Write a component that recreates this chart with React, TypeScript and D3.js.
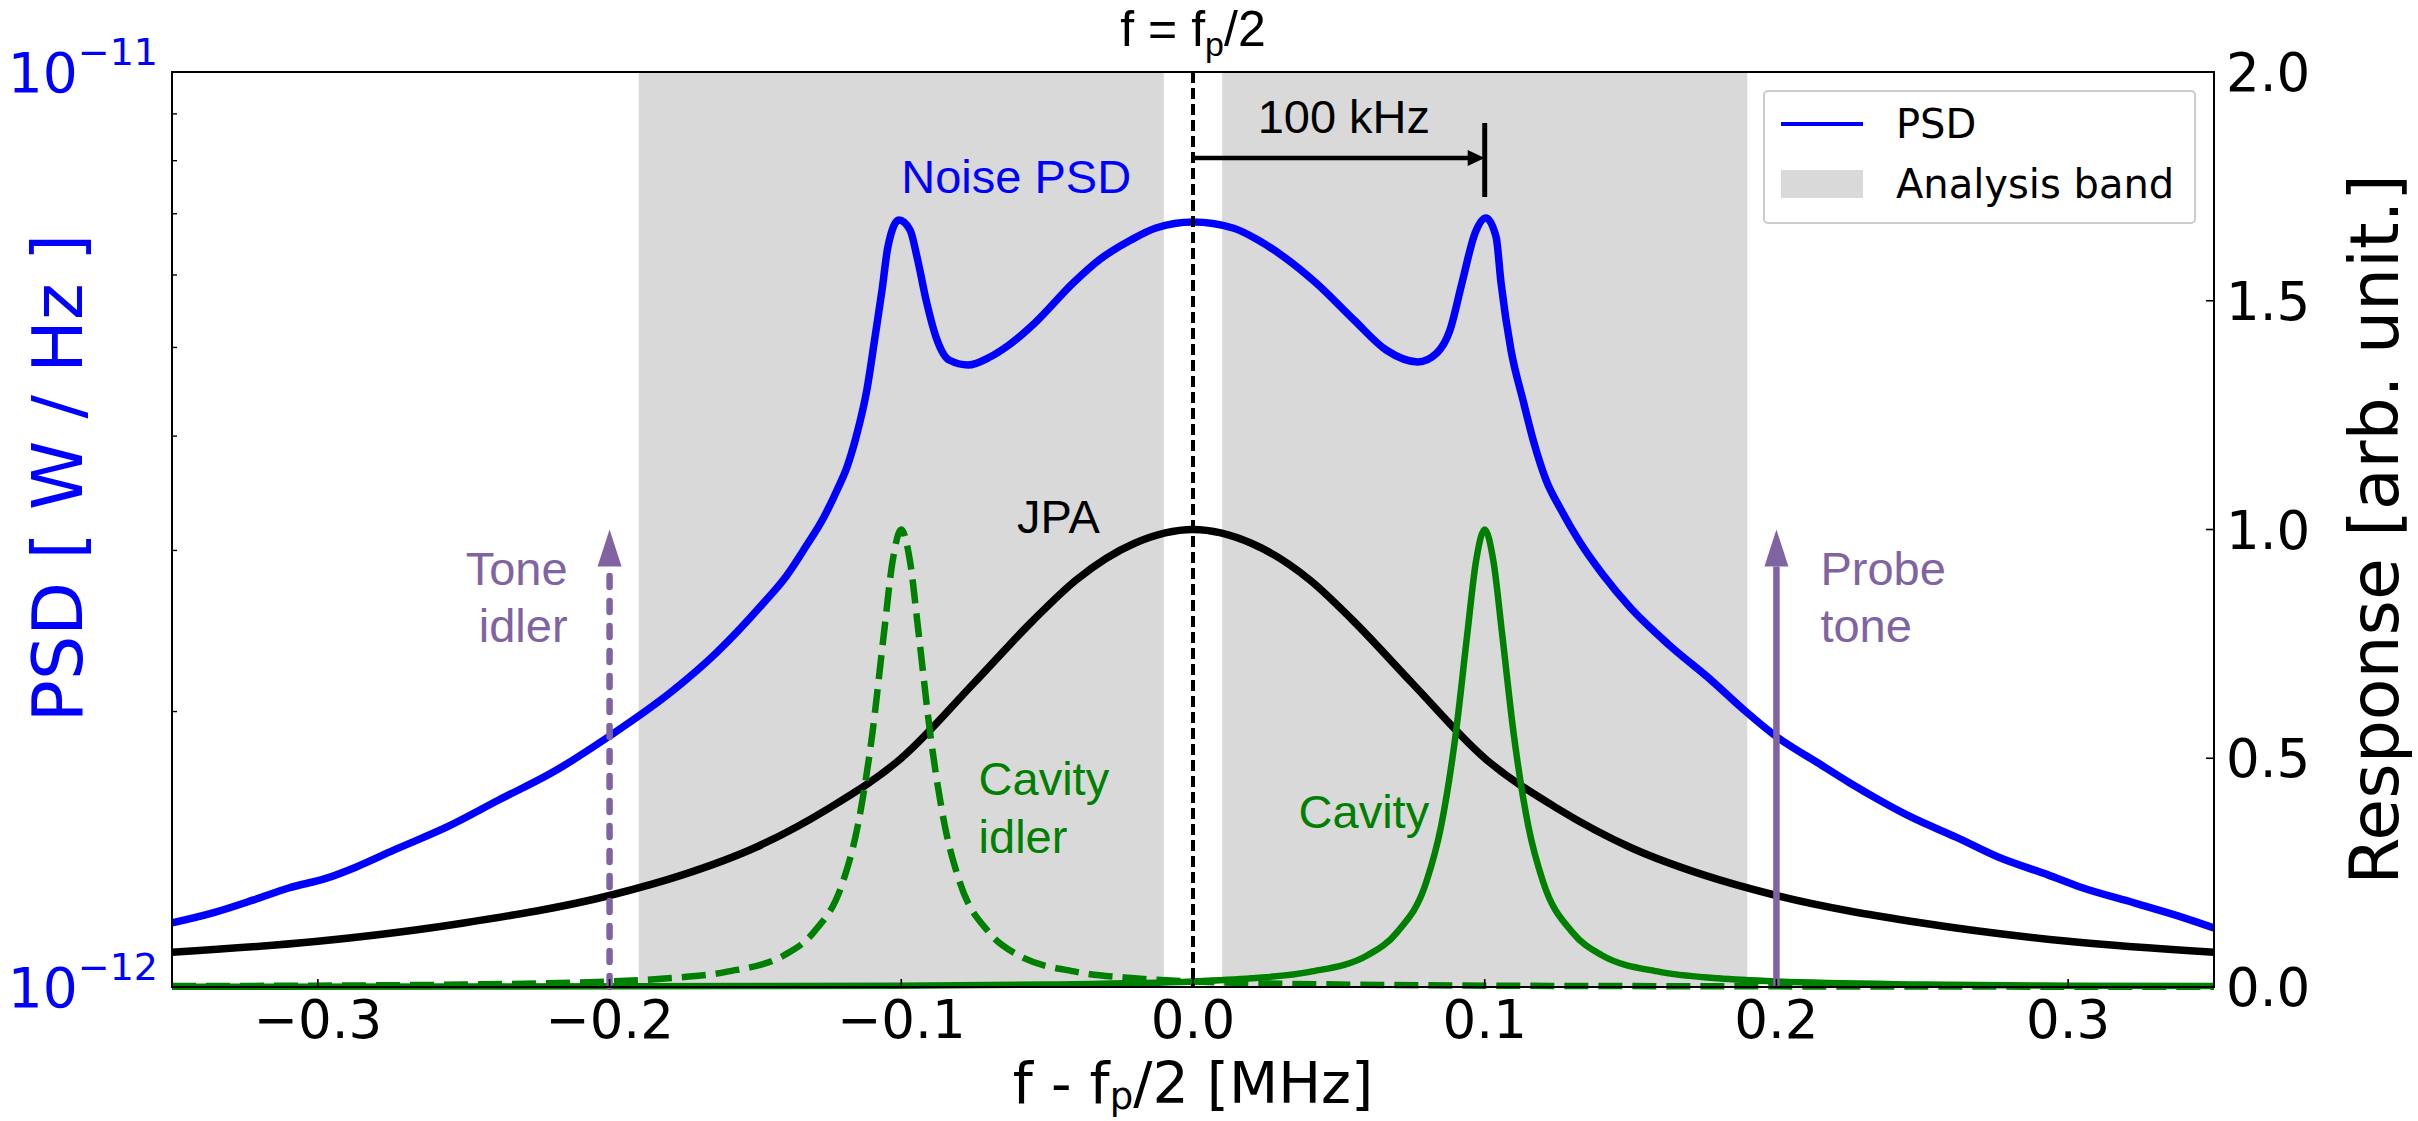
import React from "react";
import * as d3 from "d3";

const width = 2418;
const height = 1121;
const plot = { left: 172, right: 2214, top: 72, bottom: 987 };

// noise PSD, [f - fp/2 in MHz, PSD in units of 1e-12 W/Hz]
const psdPoints: [number, number][] = [
  [-0.35, 1.175], [-0.336, 1.205], [-0.322, 1.245], [-0.31, 1.283], [-0.297, 1.315],
  [-0.287, 1.352], [-0.274, 1.411], [-0.255, 1.5], [-0.238, 1.601], [-0.22, 1.713],
  [-0.2005, 1.876], [-0.178, 2.112], [-0.1635, 2.317], [-0.1474, 2.625], [-0.1395, 2.81],
  [-0.133, 3.02], [-0.1265, 3.264], [-0.122, 3.493], [-0.1186, 3.701], [-0.1155, 3.991],
  [-0.1118, 4.493], [-0.109, 5.134], [-0.1066, 5.777], [-0.1046, 6.437], [-0.1008, 6.89],
  [-0.097, 6.72], [-0.0946, 6.278], [-0.0915, 5.634], [-0.0881, 5.134], [-0.0836, 4.844],
  [-0.0771, 4.784], [-0.0696, 4.881], [-0.0631, 5.031], [-0.0542, 5.318], [-0.0411, 5.88],
  [-0.0322, 6.231], [-0.0213, 6.552], [-0.0127, 6.753], [0, 6.856], [0.0137, 6.753],
  [0.0223, 6.552], [0.0312, 6.278], [0.0422, 5.88], [0.0552, 5.358], [0.0662, 4.968],
  [0.0771, 4.821], [0.0836, 4.931], [0.0881, 5.224], [0.0922, 5.88], [0.0967, 6.668],
  [0.1004, 6.925], [0.1039, 6.602], [0.1056, 5.88], [0.109, 4.968], [0.1131, 4.381],
  [0.1169, 3.931], [0.121, 3.583], [0.1262, 3.321], [0.1327, 3.06], [0.1406, 2.82],
  [0.1498, 2.6], [0.1632, 2.365], [0.1776, 2.165], [0.1889, 2.008], [0.2002, 1.876],
  [0.2143, 1.757], [0.2252, 1.671], [0.2352, 1.601], [0.2461, 1.534], [0.2616, 1.458],
  [0.276, 1.387], [0.2931, 1.326], [0.3041, 1.286], [0.3229, 1.235], [0.3387, 1.193],
  [0.35, 1.16],
];

// JPA gain response (right axis)
const jpaPoints: [number, number][] = [
  [-0.35, 0.076], [-0.3, 0.1], [-0.25, 0.14], [-0.2, 0.2], [-0.175, 0.245], [-0.15, 0.305],
  [-0.125, 0.39], [-0.1, 0.5], [-0.075, 0.665], [-0.055, 0.8], [-0.04, 0.89], [-0.02, 0.97],
  [0, 1.0], [0.02, 0.97], [0.04, 0.89], [0.055, 0.8], [0.075, 0.665], [0.1, 0.5],
  [0.125, 0.39], [0.15, 0.305], [0.175, 0.245], [0.2, 0.2], [0.25, 0.14], [0.3, 0.1],
  [0.35, 0.076],
];

// cavity response (solid green)
const cavityPoints: [number, number][] = [
  [-0.35, 0.0006], [-0.25, 0.001], [-0.15, 0.002], [-0.1, 0.003], [-0.05, 0.0054],
  [0, 0.012], [0.02, 0.019], [0.04, 0.033], [0.06, 0.07], [0.07, 0.12], [0.08, 0.23],
  [0.085, 0.35], [0.09, 0.55], [0.094, 0.77], [0.097, 0.93], [0.1, 1.0], [0.103, 0.93],
  [0.106, 0.77], [0.11, 0.55], [0.115, 0.35], [0.12, 0.23], [0.13, 0.12], [0.14, 0.07],
  [0.16, 0.033], [0.18, 0.019], [0.2, 0.012], [0.25, 0.0054], [0.3, 0.003], [0.35, 0.002],
];

// cavity idler response (dashed green)
const idlerPoints: [number, number][] = [
  [-0.35, 0.002], [-0.3, 0.003], [-0.25, 0.0054], [-0.2, 0.012], [-0.18, 0.019],
  [-0.16, 0.033], [-0.14, 0.07], [-0.13, 0.12], [-0.12, 0.23], [-0.115, 0.35], [-0.11, 0.55],
  [-0.106, 0.77], [-0.103, 0.93], [-0.1, 1.0], [-0.097, 0.93], [-0.094, 0.77], [-0.09, 0.55],
  [-0.085, 0.35], [-0.08, 0.23], [-0.07, 0.12], [-0.06, 0.07], [-0.04, 0.033], [-0.02, 0.019],
  [0, 0.012], [0.05, 0.0054], [0.1, 0.003], [0.15, 0.002], [0.25, 0.001], [0.35, 0.0006],
];

const analysisBands: [number, number][] = [[-0.19, -0.01], [0.01, 0.19]];
const xTicks = [-0.3, -0.2, -0.1, 0, 0.1, 0.2, 0.3];
const rightTicks = [0, 0.5, 1.0, 1.5, 2.0];
const leftMajorTicks = [1e-12, 1e-11];
const leftMinorTicks = [2e-12, 3e-12, 4e-12, 5e-12, 6e-12, 7e-12, 8e-12, 9e-12];
const tones = [
  { f: -0.2, level: 1.0, dashed: true, label: ["Tone", "idler"], side: "left" },
  { f: 0.2, level: 1.0, dashed: false, label: ["Probe", "tone"], side: "right" },
];
const spacingKHz = 100;

const BLUE = "#0000ff";
const GREEN = "#008000";
const PURPLE = "#8064a2";
const BAND = "#d9d9d9";
const DEJAVU = "'DejaVu Sans', sans-serif";
const ARIAL = "'Liberation Sans', Arial, sans-serif";

const App = () => {
  const x = d3.scaleLinear().domain([-0.35, 0.35]).range([plot.left, plot.right]);
  const yL = d3.scaleLog().domain([1e-12, 1e-11]).range([plot.bottom, plot.top]);
  const yR = d3.scaleLinear().domain([0, 2]).range([plot.bottom, plot.top]);

  const psdLine = d3
    .line<[number, number]>()
    .x((d) => x(d[0]))
    .y((d) => yL(d[1] * 1e-12))
    .curve(d3.curveMonotoneX);
  const respLine = d3
    .line<[number, number]>()
    .x((d) => x(d[0]))
    .y((d) => yR(d[1]))
    .curve(d3.curveMonotoneX);

  const fmt = d3.format(".1f");
  const x0 = x(0);
  const x100 = x(spacingKHz / 1000);

  return (
    <svg width={width} height={height} style={{ position: "absolute", left: 0, top: 0 }}>
      <rect width={width} height={height} fill="#fff" />
      <defs>
        <clipPath id="plotClip">
          <rect x={plot.left} y={plot.top - 10} width={plot.right - plot.left} height={plot.bottom - plot.top + 20} />
        </clipPath>
      </defs>

      {/* analysis band */}
      {analysisBands.map(([a, b], i) => (
        <rect key={i} x={x(a)} y={plot.top} width={x(b) - x(a)} height={plot.bottom - plot.top} fill={BAND} />
      ))}

      <g clipPath="url(#plotClip)" fill="none" strokeLinejoin="round">
        <path d={psdLine(psdPoints) || ""} stroke={BLUE} strokeWidth={7.5} />
        <path d={respLine(jpaPoints) || ""} stroke="#000" strokeWidth={7.5} />
        <path d={respLine(idlerPoints) || ""} stroke={GREEN} strokeWidth={6.5} strokeDasharray="24,10" />
        <path d={respLine(cavityPoints) || ""} stroke={GREEN} strokeWidth={6.5} />
      </g>

      {/* f = fp/2 marker */}
      <line x1={x0} x2={x0} y1={plot.top} y2={plot.bottom} stroke="#000" strokeWidth={4} strokeDasharray="11,5" />

      {/* tone arrows */}
      {tones.map((t, i) => {
        const tx = x(t.f);
        const tipY = yR(t.level);
        const baseY = tipY + 37;
        return (
          <g key={i}>
            <line
              x1={tx}
              x2={tx}
              y1={plot.bottom}
              y2={baseY}
              stroke={PURPLE}
              strokeWidth={6.5}
              strokeDasharray={t.dashed ? "11,14" : undefined}
              strokeLinecap={t.dashed ? "round" : "butt"}
            />
            <polygon points={`${tx - 12},${baseY} ${tx + 12},${baseY} ${tx},${tipY}`} fill={PURPLE} />
            {t.label.map((s, j) => (
              <text
                key={j}
                x={t.side === "left" ? tx - 42 : tx + 44}
                y={tipY + 55 + j * 57}
                textAnchor={t.side === "left" ? "end" : "start"}
                fontFamily={ARIAL}
                fontSize={47}
                fill={PURPLE}
              >
                {s}
              </text>
            ))}
          </g>
        );
      })}

      {/* 100 kHz spacing */}
      <line x1={x0} x2={x100 - 14} y1={158} y2={158} stroke="#000" strokeWidth={4.5} />
      <polygon points={`${x100 - 17},${150} ${x100 - 17},${166} ${x100},${158}`} fill="#000" />
      <line x1={x100} x2={x100} y1={123} y2={197} stroke="#000" strokeWidth={5} />
      <text x={(x0 + x100) / 2 + 5} y={133} textAnchor="middle" fontFamily={ARIAL} fontSize={47}>
        {spacingKHz} kHz
      </text>

      {/* curve labels */}
      <text x={x(-0.1)} y={193} fontFamily={ARIAL} fontSize={47} fill={BLUE}>
        Noise PSD
      </text>
      <text x={x(-0.0603)} y={533} fontFamily={ARIAL} fontSize={47} fill="#000">
        JPA
      </text>
      <text x={x(-0.0735)} y={795} fontFamily={ARIAL} fontSize={47} fill={GREEN}>
        Cavity
      </text>
      <text x={x(-0.0735)} y={853} fontFamily={ARIAL} fontSize={47} fill={GREEN}>
        idler
      </text>
      <text x={x(0.0362)} y={828} fontFamily={ARIAL} fontSize={47} fill={GREEN}>
        Cavity
      </text>

      {/* top label */}
      <text x={x0} y={46} textAnchor="middle" fontFamily={ARIAL} fontSize={50}>
        f = f
        <tspan fontSize={34} dy={10}>p</tspan>
        <tspan dy={-10}>/2</tspan>
      </text>

      {/* spines */}
      <rect
        x={plot.left}
        y={plot.top}
        width={plot.right - plot.left}
        height={plot.bottom - plot.top}
        fill="none"
        stroke="#000"
        strokeWidth={2}
      />

      {/* x ticks */}
      {xTicks.map((t) => (
        <g key={t}>
          <line x1={x(t)} x2={x(t)} y1={plot.bottom} y2={plot.bottom - 8} stroke="#000" strokeWidth={1.6} />
          <text x={x(t)} y={1038} textAnchor="middle" fontFamily={DEJAVU} fontSize={53}>
            {fmt(t)}
          </text>
        </g>
      ))}

      {/* right ticks */}
      {rightTicks.map((t) => (
        <g key={t}>
          <line x1={plot.right} x2={plot.right - 8} y1={yR(t)} y2={yR(t)} stroke="#000" strokeWidth={1.6} />
          <text x={plot.right + 12} y={yR(t) + 19} fontFamily={DEJAVU} fontSize={53}>
            {fmt(t)}
          </text>
        </g>
      ))}

      {/* left log ticks */}
      {leftMinorTicks.map((t) => (
        <line key={t} x1={plot.left} x2={plot.left + 5} y1={yL(t)} y2={yL(t)} stroke="#000" strokeWidth={1.4} />
      ))}
      {leftMajorTicks.map((t) => (
        <text key={t} x={plot.left - 14} y={yL(t) + 20} textAnchor="end" fontFamily={DEJAVU} fontSize={55} fill={BLUE}>
          10
          <tspan fontSize={38} dy={-27}>
            {"\u2212" + String(-Math.round(Math.log10(t)))}
          </tspan>
        </text>
      ))}

      {/* axis titles */}
      <text
        transform={`translate(82,478) rotate(-90)`}
        textAnchor="middle"
        fontFamily={DEJAVU}
        fontSize={70}
        fill={BLUE}
      >
        PSD [ W / Hz ]
      </text>
      <text
        transform={`translate(2398,${(plot.top + plot.bottom) / 2}) rotate(-90)`}
        textAnchor="middle"
        fontFamily={DEJAVU}
        fontSize={68}
      >
        Response [arb. unit.]
      </text>
      <text x={x0} y={1103} textAnchor="middle" fontFamily={DEJAVU} fontSize={57}>
        f - f
        <tspan fontSize={37} dy={6}>p</tspan>
        <tspan dy={-6}>/2 [MHz]</tspan>
      </text>

      {/* legend */}
      <g>
        <rect x={1764} y={91} width={431} height={132} rx={4} fill="#fff" fillOpacity={0.85} stroke="#cccccc" strokeWidth={2} />
        <line x1={1781} x2={1863} y1={124} y2={124} stroke={BLUE} strokeWidth={4} />
        <rect x={1781} y={170} width={82} height={28} fill={BAND} />
        <text x={1896} y={138} fontFamily={DEJAVU} fontSize={40}>
          PSD
        </text>
        <text x={1896} y={198} fontFamily={DEJAVU} fontSize={40}>
          Analysis band
        </text>
      </g>
    </svg>
  );
};

export default App;
